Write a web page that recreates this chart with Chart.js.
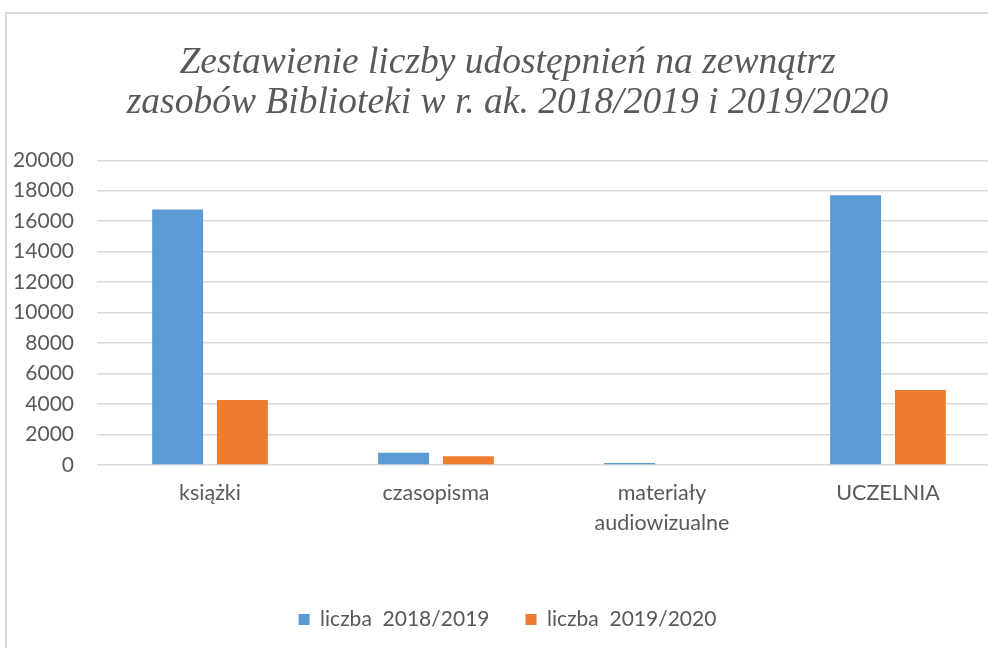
<!DOCTYPE html>
<html>
<head>
<meta charset="utf-8">
<script src="https://cdn.jsdelivr.net/npm/chart.js@4/dist/chart.umd.min.js"></script>
<style>
    html, body { margin: 0; padding: 0; background: #fff; overflow: hidden; }
    #box {
        position: absolute; left: 5px; top: 12px;
        width: 996px; height: 640px;
        border-left: 2px solid #d9d9d9; border-top: 2px solid #d9d9d9;
    }
</style>
</head>
<body>
<div id="box"><canvas id="graph" width="996" height="640"></canvas></div>
<script>
const categories = ["książki", "czasopisma", ["materiały", "audiowizualne"], "UCZELNIA"];
const values_2018 = [16760, 810, 130, 17700];
const values_2019 = [4260, 570, 0, 4930];
const series_labels = ["liczba  2018/2019", "liczba  2019/2020"];
const title_lines = ["Zestawienie liczby udostępnień na zewnątrz", "zasobów Biblioteki w r. ak. 2018/2019 i 2019/2020"];

const gray = "#595959";
const labelFont = { family: "Lato", size: 21 };

let context = document.querySelector("#graph").getContext("2d");

let chart = new Chart(context, {
    type: 'bar',
    data: {
        labels: categories,
        datasets: [{
            label: series_labels[0],
            data: values_2018,
            backgroundColor: "#5B9BD5",
        }, {
            label: series_labels[1],
            data: values_2019,
            backgroundColor: "#ED7D31",
        }]
    },
    options: {
        responsive: false,
        animation: false,
        categoryPercentage: 0.573,
        barPercentage: 0.787,
        layout: {
            padding: { left: 7, right: 2, top: 0, bottom: 14 }
        },
        plugins: {
            title: {
                display: true,
                text: title_lines,
                color: gray,
                font: { family: "Liberation Serif", style: "italic", size: 37.5, weight: "normal", lineHeight: 1.07 },
                padding: { top: 29, bottom: 37 }
            },
            legend: {
                position: 'bottom',
                labels: {
                    color: gray,
                    font: labelFont,
                    boxWidth: 11,
                    boxHeight: 11,
                    padding: 36
                }
            },
            tooltip: { enabled: false }
        },
        scales: {
            x: {
                grid: { display: false },
                border: { display: false },
                ticks: {
                    color: gray,
                    font: { family: "Lato", size: 21.5, lineHeight: 1.4 },
                    padding: 5,
                    maxRotation: 0
                },
                afterFit(scale) { scale.height = 108; }
            },
            y: {
                min: 0,
                max: 20000,
                grid: { color: "#d9d9d9", lineWidth: 1.5, drawTicks: false },
                border: { display: false },
                ticks: {
                    stepSize: 2000,
                    color: gray,
                    font: labelFont,
                    padding: 23,
                    callback: (v) => String(v)
                },
                afterFit(scale) { scale.width = 83; }
            }
        }
    }
});
</script>
</body>
</html>
